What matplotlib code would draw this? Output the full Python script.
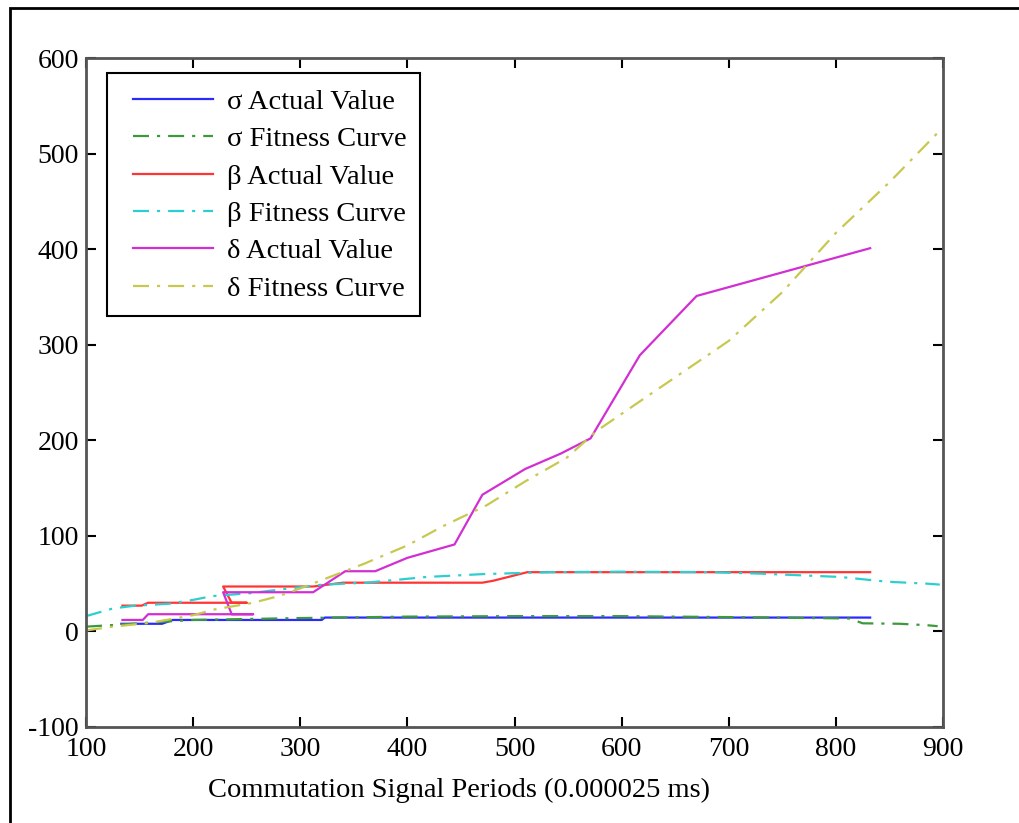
import matplotlib
matplotlib.use("Agg")
import matplotlib.pyplot as plt
from matplotlib.patches import Rectangle

plt.rcParams['font.family'] = ['Liberation Serif', 'DejaVu Serif']
plt.rcParams['axes.unicode_minus'] = False

#sigma
sig_act_x = [133, 171, 181, 320, 323, 832]
sig_act_y = [8, 8, 12, 12, 14.5, 14.5]
sig_fit_x = [100, 130, 170, 200, 300, 400, 500, 600, 650, 700, 780, 813, 825, 860, 885, 895]
sig_fit_y = [5, 7, 10, 12, 14, 15.5, 16, 16, 15.5, 15, 14, 13.5, 8.5, 8, 6.5, 5.5]

#beta
bet_act_x = [134, 152, 158, 250, 236, 228, 312, 340, 470, 480, 512, 832]
bet_act_y = [27, 27, 30, 30, 30, 47, 47, 51, 51, 53, 62, 62]
bet_fit_x = [100, 125, 146, 178, 200, 218, 253, 290, 321, 362, 418, 471, 533, 600, 683, 729, 804, 848, 885, 897]
bet_fit_y = [16, 24, 27, 29, 33, 37, 40, 45, 49, 51, 57, 60, 62, 62.5, 62, 60.5, 57, 52, 50, 49]

#delta
del_act_x = [134, 153, 158, 256, 236, 228, 312, 342, 370, 400, 444, 470, 510, 543, 571, 617, 670, 832]
del_act_y = [12, 12, 18, 18, 18, 41, 41, 63, 63, 77, 91, 143, 170, 186, 202, 289, 351, 401]
del_fit_x = [100, 125, 160, 200, 220, 256, 280, 300, 330, 360, 400, 433, 474, 510, 549, 577, 620, 700, 750, 800, 850, 897]
del_fit_y = [1, 5, 9, 17, 23, 30, 37, 45, 58, 71, 90, 110, 132, 157, 182, 210, 243, 304, 355, 417, 470, 524]

W, H = 1019, 823
fig = plt.figure(figsize=(W/100, H/100), dpi=100)
ax = fig.add_axes([86/W, 1-727/H, (943-86)/W, (727-58)/H])

dd = (0, (7.2, 3.6, 1.4, 3.6))
lw = 1.6
ax.plot(sig_act_x, sig_act_y, color='#2a2aff', lw=lw, label='σ Actual Value')
ax.plot(sig_fit_x, sig_fit_y, color='#3c9a3c', lw=lw, ls=dd, label='σ Fitness Curve')
ax.plot(bet_act_x, bet_act_y, color='#ff3535', lw=lw, label='β Actual Value')
ax.plot(bet_fit_x, bet_fit_y, color='#2ccfcf', lw=lw, ls=dd, label='β Fitness Curve')
ax.plot(del_act_x, del_act_y, color='#d22ed2', lw=lw, label='δ Actual Value')
ax.plot(del_fit_x, del_fit_y, color='#c8c850', lw=lw, ls=dd, label='δ Fitness Curve')

ax.set_xlim(100, 900)
ax.set_ylim(-100, 600)
ax.set_xticks(range(100, 901, 100))
ax.set_yticks(range(-100, 601, 100))
ax.tick_params(direction='in', length=7, width=1.5, top=True, right=True,
               labelsize=20)
ax.tick_params(axis='x', pad=7)
ax.tick_params(axis='y', pad=5)
for s in ax.spines.values():
    s.set_color('#555555')
    s.set_linewidth(2)

# legend box drawn separately so the padding matches
ax.add_artist(Rectangle((107/W, 1-316/H), (420-107)/W, (316-73)/H, transform=fig.transFigure,
                        facecolor='white', edgecolor='black', lw=1.5, zorder=4))
leg = ax.legend(loc='upper left', bbox_to_anchor=(133/W, 1-89/H), bbox_transform=fig.transFigure,
                borderaxespad=0, frameon=False, fontsize=20.5,
                handlelength=2.8, handletextpad=0.5, labelspacing=0.4, borderpad=0)
leg.set_zorder(5)

fig.text(459/W, 1-790/H, 'Commutation Signal Periods (0.000025 ms)', ha='center', va='center', fontsize=20.5)

# outer frame of the figure
fig.add_artist(Rectangle((10/W, -0.1), 1.2, 1.1 - 8/H, transform=fig.transFigure,
                         fill=False, edgecolor='black', lw=2))

fig.savefig('out.png', dpi=100)
